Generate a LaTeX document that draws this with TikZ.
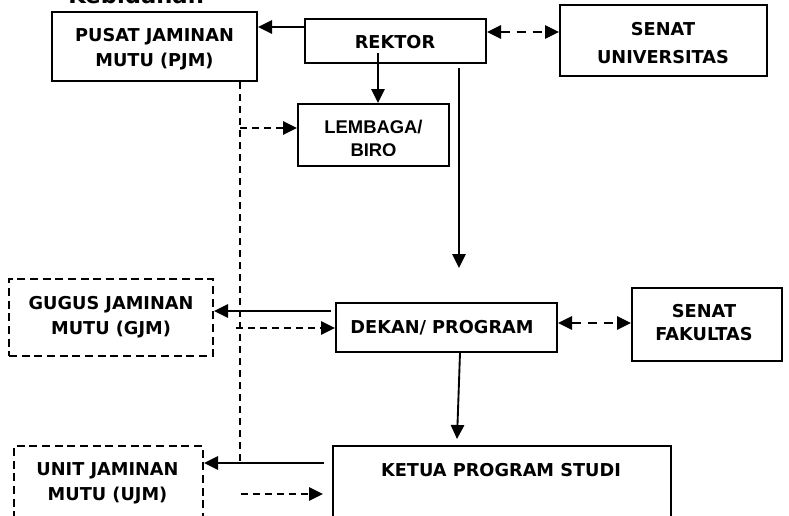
\documentclass[tikz,border=0pt]{standalone}
\usepackage{fontspec}
\setmainfont{DejaVu Sans}
\newfontfamily\arialf{Liberation Sans}
\usetikzlibrary{arrows.meta,calc}
\begin{document}
\begin{tikzpicture}[x=0.75pt,y=-0.75pt,
  box/.style={draw,line width=1.5pt,inner sep=0pt},
  dbox/.style={box,dash pattern=on 6pt off 3.5pt},
  lbl/.style={inner sep=0pt,anchor=base,font=\bfseries\fontsize{13.3}{16}\selectfont},
  arr/.style={line width=1.4pt,-{Triangle[length=10.5pt,width=10pt]}},
  darr/.style={arr,dash pattern=on 5.5pt off 3.5pt},
  ddarr/.style={line width=1.4pt,dash pattern=on 7pt off 5pt,{Triangle[length=10.5pt,width=10pt]}-{Triangle[length=10.5pt,width=10pt]}},
  dline/.style={line width=1.4pt,dash pattern=on 5.5pt off 3.5pt}]
\useasboundingbox (0,0) rectangle (789,515);
\node[anchor=base west,inner sep=0pt,font=\bfseries\fontsize{17}{20}\selectfont] (title) at (68,3.5) {Kebidanan};
% boxes
\node[box,minimum width=153.75pt,minimum height=51.75pt] (pjm) at (154.5,46.5) {};
\node[box,minimum width=135.75pt,minimum height=33pt] (rektor) at (395.5,41) {};
\node[box,minimum width=155.25pt,minimum height=53.25pt] (senatu) at (663.5,40.5) {};
\node[box,minimum width=113.25pt,minimum height=46.5pt] (lembaga) at (373.5,135) {};
\node[dbox,minimum width=153pt,minimum height=57.75pt] (gjm) at (111,317.5) {};
\node[box,minimum width=165.75pt,minimum height=36.75pt] (dekan) at (446.5,327.5) {};
\node[box,minimum width=112.5pt,minimum height=54.75pt] (senatf) at (707,324.5) {};
\node[box,minimum width=253.5pt,minimum height=85.5pt] (ketua) at (502,503) {};
\node[dbox,minimum width=141.75pt,minimum height=85.5pt] (ujm) at (108.5,503) {};
% texts
\node[lbl] (pjm1) at (154.5,41) {PUSAT JAMINAN};
\node[lbl] (pjm2) at (154.5,66.7) {MUTU (PJM)};
\node[lbl] (rektortxt) at (395,48.3) {REKTOR};
\node[lbl] (senatu1) at (663,35) {SENAT};
\node[lbl] (senatu2) at (663,63.3) {UNIVERSITAS};
\begin{scope}
  \clip (298,104) rectangle (449,155);
  \node[lbl,font=\arialf\bfseries\fontsize{13.8}{16.5}\selectfont] (lembaga1) at (373.5,133.3) {LEMBAGA/};
  \node[lbl,font=\arialf\bfseries\fontsize{13.8}{16.5}\selectfont] (lembaga2) at (373.5,156.6) {BIRO};
\end{scope}
\node[lbl] (gjm1) at (111,309.3) {GUGUS JAMINAN};
\node[lbl] (gjm2) at (111,334) {MUTU (GJM)};
\node[lbl] (dekantxt) at (442,333.3) {DEKAN/ PROGRAM};
\node[lbl] (senatf1) at (704,317.3) {SENAT};
\node[lbl] (senatf2) at (704,340.7) {FAKULTAS};
\node[lbl] (ketuatxt) at (501,476) {KETUA PROGRAM STUDI};
\node[lbl] (ujm1) at (107.5,475.7) {UNIT JAMINAN};
\node[lbl] (ujm2) at (107.5,500.7) {MUTU (UJM)};
\coordinate (rdown) at (459,268);
% connectors
\draw[arr] (rektor.west |- 0,27) -- (pjm.east |- 0,27);
\draw[arr] (378,53) -- (lembaga.north -| 378,0);
\draw[arr] (rektor.south -| 459,0) ++(0,4) -- (rdown);
\draw[ddarr] (rektor.east |- 0,32) -- (senatu.west |- 0,32);
\draw[dline] (pjm.south -| 240,0) -- (240,463);
\draw[darr] (240,128) -- (lembaga.west |- 0,128);
\draw[arr] ([xshift=-3pt]dekan.west |- 0,311) -- (gjm.east |- 0,311);
\draw[darr] (236,328) -- (dekan.west |- 0,328);
\draw[ddarr] (dekan.east |- 0,323) -- (senatf.west |- 0,323);
\draw[arr] (dekan.south -| 460,0) -- (457,439);
\draw[arr] (324,463) -- (ujm.east |- 0,463);
\draw[darr] (241,494) -- (323,494);
\end{tikzpicture}
\end{document}
